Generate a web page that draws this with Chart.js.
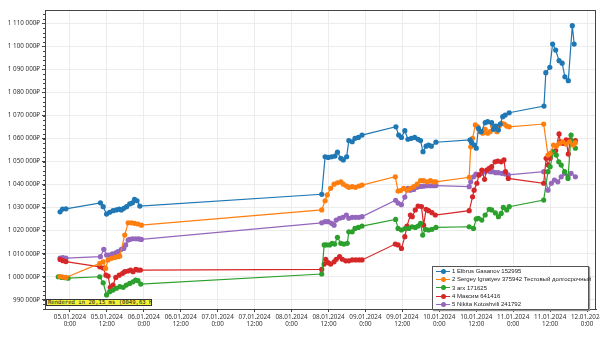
<!DOCTYPE html>
<html>
<head>
<meta charset="utf-8">
<script src="https://cdn.jsdelivr.net/npm/chart.js@4.4.1/dist/chart.umd.min.js"></script>
<style>
  html, body { margin: 0; padding: 0; background: #fff; }
  #wrap { position: relative; width: 600px; height: 337px; overflow: hidden; }
  #legend {
    position: absolute; left: 432px; top: 266px; width: 155px;
    background: #fff; border: 1px solid #555; box-shadow: 1px 1px 1px #999;
    font: 6px "Liberation Sans", sans-serif; color: #222; padding: 0 0 1px 0;
  }
  .row { height: 8.3px; line-height: 8.3px; white-space: nowrap; position: relative; padding-left: 19px; }
  .sw { position: absolute; left: 3px; top: 3.8px; width: 14px; height: 1px; }
  .dot { position: absolute; left: 5px; top: -2px; width: 5px; height: 5px; border-radius: 50%; }
  #perf {
    position: absolute; left: 46px; top: 299px; width: 106px; height: 7px;
    background: #f2f23a; border: 1px solid #333; box-sizing: border-box;
    font: 5.6px "DejaVu Sans Mono", monospace; line-height: 5.5px; color: #111; padding-left: 1px;
    white-space: nowrap; overflow: hidden;
  }
</style>
</head>
<body>
<div id="wrap">
  <canvas id="chart" width="600" height="337"></canvas>
  <div id="legend"></div>
  <div id="perf">Rendered in 20,15 ms (0049,63 Hz)</div>
</div>
<script>
// x = hours since 05.01.2024 0:00, y = thousand rubles
const names = ['1 Elbrus Gasanov 152995', '2 Sergey Ignatyev 375942 Тестовый долгосрочный',
  '3 arx  171625', '4 Максим  641416', '5 Nikita Kotoshvili 241792'];
const colors = ['#1f77b4', '#ff7f0e', '#2ca02c', '#d62728', '#9467bd'];

const elbrus = [[-3.2,1028.2],[-2.4,1029.4],[-1.3,1029.5],[9.9,1032.1],[10.8,1030.4],[11.9,1027.2],[12.9,1028.0],
  [14.0,1028.7],[15.1,1029.0],[16.0,1029.4],[16.7,1029.0],[17.5,1029.7],[18.4,1030.4],[19.4,1031.6],[20.3,1032.1],
  [21.0,1033.6],[21.8,1033.0],[22.7,1030.7],[81.8,1035.8],[82.9,1052.1],[83.9,1051.8],[85.0,1052.1],[86.1,1052.4],
  [86.9,1054.1],[88.0,1051.4],[88.8,1050.7],[89.9,1052.1],[90.6,1059.1],[91.7,1058.6],[92.6,1060.1],[93.7,1060.5],
  [94.9,1061.5],[105.9,1065.1],[106.8,1061.5],[107.7,1060.5],[108.8,1063.4],[109.8,1059.7],[110.9,1060.1],
  [112.0,1060.5],[113.1,1059.7],[113.9,1059.1],[114.7,1054.3],[115.7,1056.7],[116.5,1057.2],[117.4,1056.7],
  [118.9,1058.4],[130.0,1059.4],[130.5,1058.2],[131.4,1057.2],[132.0,1055.8],[132.7,1064.4],[133.6,1063.0],
  [134.9,1066.9],[135.7,1067.3],[137.0,1066.9],[137.6,1064.0],[138.3,1065.4],[139.2,1063.7],[139.8,1066.3],
  [140.6,1069.5],[141.4,1070.2],[142.7,1071.2],[154.0,1074.1],[154.6,1088.6],[155.9,1090.9],[156.8,1101.0],
  [157.8,1098.4],[158.9,1093.8],[159.9,1092.7],[160.8,1086.8],[161.9,1085.1],[163.2,1109.0],[163.8,1101.0]];

const sergey = [[-3.2,1000.1],[-2.3,999.9],[-1.3,999.7],[9.7,1005.8],[10.8,1006.5],[11.6,1003.6],[12.4,1007.3],
  [13.5,1008.0],[14.6,1008.4],[15.6,1008.7],[16.2,1009.0],[17.8,1018.1],[18.9,1023.4],[20.0,1023.4],[21.0,1023.2],
  [22.1,1022.9],[23.2,1022.4],[81.8,1029.0],[82.9,1033.0],[83.6,1035.5],[84.7,1038.4],[85.8,1040.2],[86.9,1040.8],
  [88.0,1041.2],[88.8,1040.2],[89.9,1039.4],[90.6,1038.8],[91.7,1039.1],[92.8,1038.8],[93.9,1039.4],[94.9,1039.8],
  [105.7,1043.4],[106.6,1037.2],[107.4,1037.4],[108.4,1038.4],[109.5,1037.6],[110.6,1038.4],[111.7,1039.1],
  [112.8,1040.2],[113.9,1041.7],[114.9,1041.7],[116.0,1041.2],[117.1,1041.7],[118.2,1041.2],[118.9,1041.2],
  [129.7,1043.2],[130.2,1056.4],[130.8,1060.1],[131.7,1065.9],[132.5,1065.1],[133.3,1063.0],[134.1,1062.3],
  [134.9,1064.0],[135.7,1062.3],[136.5,1063.0],[137.3,1065.4],[138.1,1064.4],[138.7,1063.0],[139.4,1065.4],
  [140.3,1066.6],[141.1,1066.3],[141.9,1065.4],[142.7,1065.1],[153.9,1066.3],[155.3,1052.8],[156.0,1053.6],
  [157.1,1057.2],[158.0,1056.7],[159.0,1057.9],[160.1,1058.6],[161.2,1057.6],[162.3,1058.6],[163.4,1057.2],
  [164.2,1058.2]];

const arx = [[-3.8,1000.0],[-2.7,999.7],[-1.6,999.6],[-0.6,999.4],[9.7,1000.0],[10.8,997.4],[11.9,992.1],
  [12.9,993.5],[14.0,994.2],[15.1,995.0],[16.2,995.7],[17.3,995.4],[18.3,996.4],[19.4,997.1],[20.5,997.8],
  [21.3,998.6],[22.1,998.3],[23.0,996.8],[81.8,1001.2],[82.6,1013.8],[83.3,1013.8],[84.4,1013.8],[85.2,1014.5],
  [86.0,1014.2],[86.9,1017.1],[88.0,1014.5],[89.0,1014.2],[90.1,1014.5],[90.6,1019.5],[91.7,1019.5],[92.6,1021.0],
  [93.7,1021.4],[94.9,1022.0],[105.8,1024.9],[106.6,1021.0],[107.7,1020.3],[108.8,1020.9],[110.1,1021.0],
  [111.1,1021.7],[112.2,1021.4],[113.1,1022.0],[113.9,1023.2],[114.6,1018.1],[115.5,1020.6],[116.5,1020.3],
  [117.6,1020.6],[118.9,1021.4],[129.7,1021.7],[131.1,1021.0],[132.0,1025.1],[132.7,1025.4],[133.8,1024.6],
  [134.9,1026.8],[136.2,1029.3],[137.0,1029.0],[138.2,1027.7],[139.2,1026.1],[140.1,1027.5],[140.8,1030.1],
  [141.9,1029.0],[142.7,1030.4],[153.9,1033.3],[155.3,1045.6],[156.0,1047.8],[157.1,1054.3],[158.0,1052.8],
  [158.8,1049.9],[159.6,1048.5],[160.7,1045.6],[161.8,1042.7],[162.8,1061.5],[163.6,1057.9],[164.2,1055.8]];

const maksim = [[-3.2,1007.5],[-2.3,1007.0],[-1.3,1006.6],[9.7,1004.3],[10.8,1003.8],[11.7,1000.7],[12.4,1000.3],
  [13.1,995.4],[14.0,996.4],[14.9,999.7],[16.0,1000.7],[17.1,1001.5],[17.8,1002.2],[18.9,1002.5],[19.7,1002.9],
  [20.5,1002.2],[21.4,1003.2],[22.1,1002.9],[22.9,1002.9],[81.8,1003.2],[82.6,1005.5],[83.1,1007.6],[83.9,1006.1],
  [84.7,1005.5],[85.8,1006.5],[86.5,1007.6],[87.6,1008.7],[88.5,1007.6],[89.6,1006.9],[90.6,1006.9],[91.7,1007.3],
  [92.8,1007.3],[93.9,1007.3],[94.9,1007.3],[105.7,1014.2],[106.6,1013.8],[107.7,1012.3],[108.8,1017.4],
  [109.5,1022.0],[110.6,1026.8],[111.2,1026.1],[112.2,1029.0],[113.1,1030.7],[114.2,1030.5],[114.9,1022.4],
  [115.7,1029.3],[116.5,1028.7],[117.6,1027.8],[118.7,1026.8],[129.7,1028.7],[130.8,1034.7],[131.3,1037.6],
  [132.2,1040.6],[132.9,1044.2],[133.8,1046.3],[134.7,1042.3],[135.4,1046.3],[136.2,1047.1],[137.0,1047.8],
  [138.1,1049.9],[139.0,1050.2],[140.1,1049.9],[141.0,1050.7],[141.5,1045.6],[142.4,1042.7],[153.9,1040.6],
  [154.7,1051.4],[155.4,1048.5],[156.0,1051.4],[156.9,1054.3],[157.8,1054.8],[158.9,1062.0],[159.3,1058.6],
  [160.3,1057.9],[161.2,1059.4],[161.9,1053.3],[162.5,1059.4],[163.4,1058.2],[164.2,1059.1]];

const nikita = [[-3.2,1008.1],[-2.3,1008.3],[-1.3,1008.1],[9.9,1008.7],[11.0,1011.9],[11.9,1009.4],[12.7,1009.4],
  [13.8,1009.9],[14.9,1010.4],[15.6,1010.9],[16.7,1011.9],[17.5,1012.3],[18.1,1013.8],[18.9,1015.9],[19.4,1016.2],
  [20.3,1016.5],[21.4,1016.5],[22.4,1016.4],[23.2,1016.2],[81.8,1023.4],[82.9,1023.9],[83.9,1023.9],[85.0,1023.2],
  [85.8,1022.4],[86.5,1024.6],[87.6,1025.4],[88.7,1025.8],[89.8,1026.8],[90.6,1025.4],[91.7,1025.8],[92.8,1025.8],
  [93.9,1025.8],[94.9,1026.1],[105.8,1033.2],[106.6,1032.0],[107.7,1031.3],[108.8,1034.6],[109.8,1038.4],
  [110.6,1037.6],[111.7,1037.9],[112.8,1038.9],[113.9,1039.2],[114.9,1039.3],[116.0,1039.5],[117.1,1039.5],
  [118.2,1039.5],[118.9,1039.6],[129.7,1039.1],[130.2,1041.2],[131.1,1043.4],[131.9,1044.6],[132.7,1044.2],
  [133.8,1044.9],[134.9,1045.6],[135.7,1046.3],[136.5,1045.6],[137.3,1045.6],[138.3,1045.2],[139.2,1045.2],
  [140.3,1044.9],[141.4,1044.6],[142.4,1044.2],[153.9,1045.6],[155.3,1037.6],[156.4,1040.6],[157.4,1042.0],
  [158.5,1041.2],[159.6,1043.4],[160.7,1044.9],[161.8,1043.7],[162.8,1044.9],[164.2,1043.4]];

const seriesList = [elbrus, sergey, arx, maksim, nikita];

// axis tick values: every 12 h, every 10 000 ₽
const xTicks = [0, 12, 24, 36, 48, 60, 72, 84, 96, 108, 120, 132, 144, 156, 168];
const yTicks = [990, 1000, 1010, 1020, 1030, 1040, 1050, 1060, 1070, 1080, 1090, 1100, 1110];

const xMin = -8.1, xMax = 170.9;
const yMin = 986, yMax = 1115.8;

function rub(v) {
  return Math.round(v * 1000).toString().replace(/\B(?=(\d{3})+(?!\d))/g, ' ') + '₽';
}
function dateLabel(h) {
  h = Math.round(h);
  const day = 5 + Math.floor(h / 24);
  const hh = ((h % 24) + 24) % 24;
  return [(day < 10 ? '0' + day : day) + '.01.2024', hh === 0 ? '0:00' : hh + ':00'];
}

// frame + minor y ticks
const framePlugin = {
  id: 'frame',
  afterDraw(chart) {
    const { ctx, chartArea: a, scales: { y } } = chart;
    ctx.save();
    ctx.strokeStyle = '#444';
    ctx.lineWidth = 1;
    ctx.strokeRect(a.left + 0.5, a.top + 0.5, a.right - a.left - 1, a.bottom - a.top);
    ctx.beginPath();
    for (let v = Math.ceil(yMin / 2) * 2; v <= yMax; v += 2) {
      const py = Math.round(y.getPixelForValue(v)) + 0.5;
      ctx.moveTo(a.left - 2, py);
      ctx.lineTo(a.left, py);
    }
    ctx.stroke();
    ctx.restore();
  }
};

const tickFont = { family: 'Noto Sans', size: 6.3 };

new Chart(document.getElementById('chart'), {
  type: 'line',
  data: {
    datasets: seriesList.map((s, i) => ({
      label: names[i],
      data: s.map(p => ({ x: p[0], y: p[1] })),
      borderColor: colors[i],
      backgroundColor: colors[i],
      borderWidth: 1.2,
      pointRadius: 2.6,
      pointBorderWidth: 0,
      pointBackgroundColor: colors[i],
      tension: 0
    }))
  },
  options: {
    responsive: false,
    animation: false,
    layout: { padding: { top: 10, right: 2, left: 0, bottom: 0 } },
    plugins: { legend: { display: false }, tooltip: { enabled: false } },
    scales: {
      x: {
        type: 'linear', min: xMin, max: xMax,
        afterBuildTicks(s) { s.ticks = xTicks.map(v => ({ value: v })); },
        afterFit(s) { s.height = 28; s.paddingLeft = 0; s.paddingRight = 0; },
        ticks: { autoSkip: false, maxRotation: 0, color: '#333', font: tickFont, padding: 1,
          callback: v => dateLabel(v) },
        grid: { color: '#ececec', tickLength: 3, tickColor: '#444' },
        border: { color: '#444' }
      },
      y: {
        min: yMin, max: yMax,
        afterBuildTicks(s) { s.ticks = yTicks.map(v => ({ value: v })); },
        afterFit(s) { s.width = 45; s.paddingTop = 0; s.paddingBottom = 0; },
        ticks: { color: '#333', font: tickFont, padding: 2, callback: v => rub(v) },
        grid: { color: '#ececec', tickLength: 3, tickColor: '#444' },
        border: { color: '#444' }
      }
    }
  },
  plugins: [framePlugin]
});

// legend
const legend = document.getElementById('legend');
names.forEach((n, i) => {
  const row = document.createElement('div');
  row.className = 'row';
  row.innerHTML = '<span class="sw" style="background:' + colors[i] + '"><span class="dot" style="background:' +
    colors[i] + '"></span></span>';
  row.appendChild(document.createTextNode(n));
  legend.appendChild(row);
});
</script>
</body>
</html>
